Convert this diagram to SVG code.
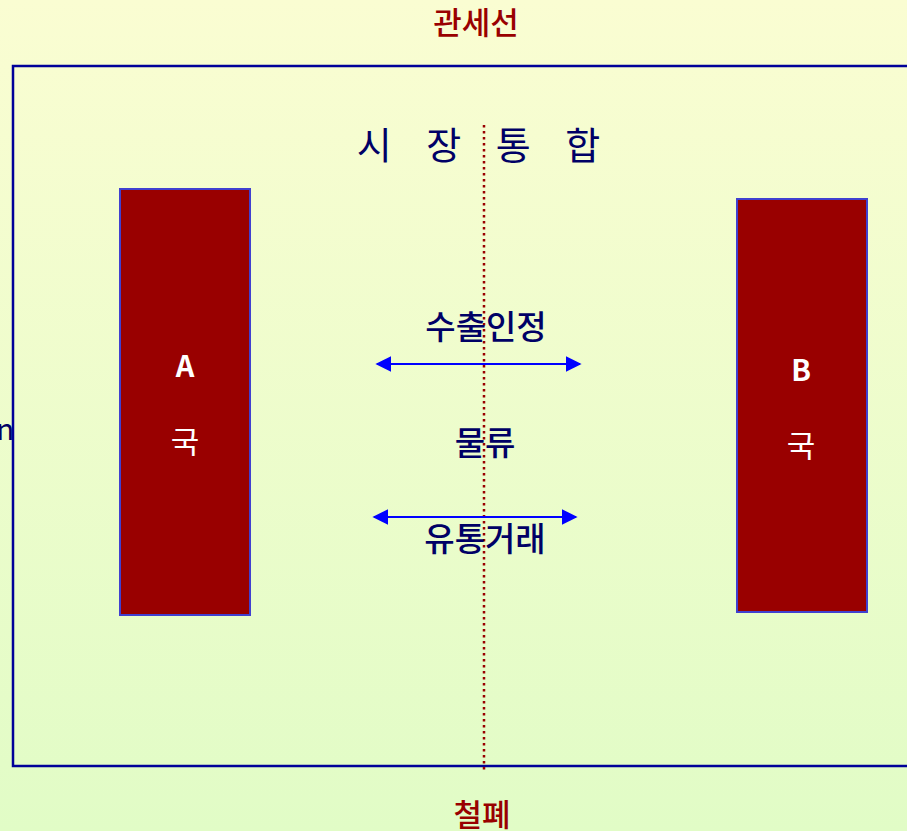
<svg xmlns="http://www.w3.org/2000/svg" width="907" height="831" viewBox="0 0 907 831">
<style>
.kr{font-family:"Noto Sans CJK KR","Noto Sans",sans-serif;}
.red{fill:#990000;}
.navy{fill:#000066;}
.wh{fill:#ffffff;}
.box{fill:#990000;stroke:#4040d0;stroke-width:2;}
.arr{stroke:#0000ff;stroke-width:2;fill:none;marker-start:url(#ah);marker-end:url(#ah);}
</style>
<defs>
<linearGradient id="bg" x1="0" y1="0" x2="0" y2="1">
<stop offset="0" stop-color="#fafdd2"/>
<stop offset="1" stop-color="#e1fcc6"/>
</linearGradient>
<marker id="ah" viewBox="0 0 10 10" refX="9" refY="5" markerWidth="16" markerHeight="16" markerUnits="userSpaceOnUse" orient="auto-start-reverse">
<path d="M0,0 L10,5 L0,10 z" fill="#0000ff"/>
</marker>
</defs>
<rect x="0" y="0" width="907" height="831" fill="url(#bg)"/>
<rect id="frame" x="13" y="66" width="920" height="700" fill="none" stroke="#000099" stroke-width="2.5"/>
<text class="kr red" x="476" y="34" font-size="31" text-anchor="middle" font-weight="500">관세선</text>
<text class="kr red" x="482" y="826" font-size="31" text-anchor="middle" font-weight="500">철폐</text>
<text class="kr navy" x="-4" y="440" font-size="30">n</text>
<g id="title">
<text class="kr navy" x="485" y="159" font-size="38" text-anchor="middle" letter-spacing="13">시 장 통 합</text>
</g>
<g id="nodeA">
<rect class="box" x="120" y="189" width="130" height="426"/>
<text class="kr wh" x="185" y="377" font-size="29" text-anchor="middle" font-weight="bold">A</text>
<text class="kr wh" x="185" y="453" font-size="31" text-anchor="middle">국</text>
</g>
<g id="nodeB">
<rect class="box" x="737" y="199" width="130" height="413"/>
<text class="kr wh" x="801" y="381" font-size="29" text-anchor="middle" font-weight="bold">B</text>
<text class="kr wh" x="801" y="457" font-size="31" text-anchor="middle">국</text>
</g>
<g id="connectors">
<line x1="484" y1="125" x2="484" y2="773" stroke="#990000" stroke-width="2.5" stroke-dasharray="2.5 3.5"/>
<line class="arr" x1="377" y1="364" x2="580" y2="364"/>
<line class="arr" x1="374" y1="517" x2="576" y2="517"/>
</g>
<g id="labels">
<text class="kr navy" x="486" y="339" font-size="33" text-anchor="middle" font-weight="500">수출인정</text>
<text class="kr navy" x="485" y="455" font-size="33" text-anchor="middle" font-weight="500">물류</text>
<text class="kr navy" x="485" y="551" font-size="33" text-anchor="middle" font-weight="500">유통거래</text>
</g>
</svg>
